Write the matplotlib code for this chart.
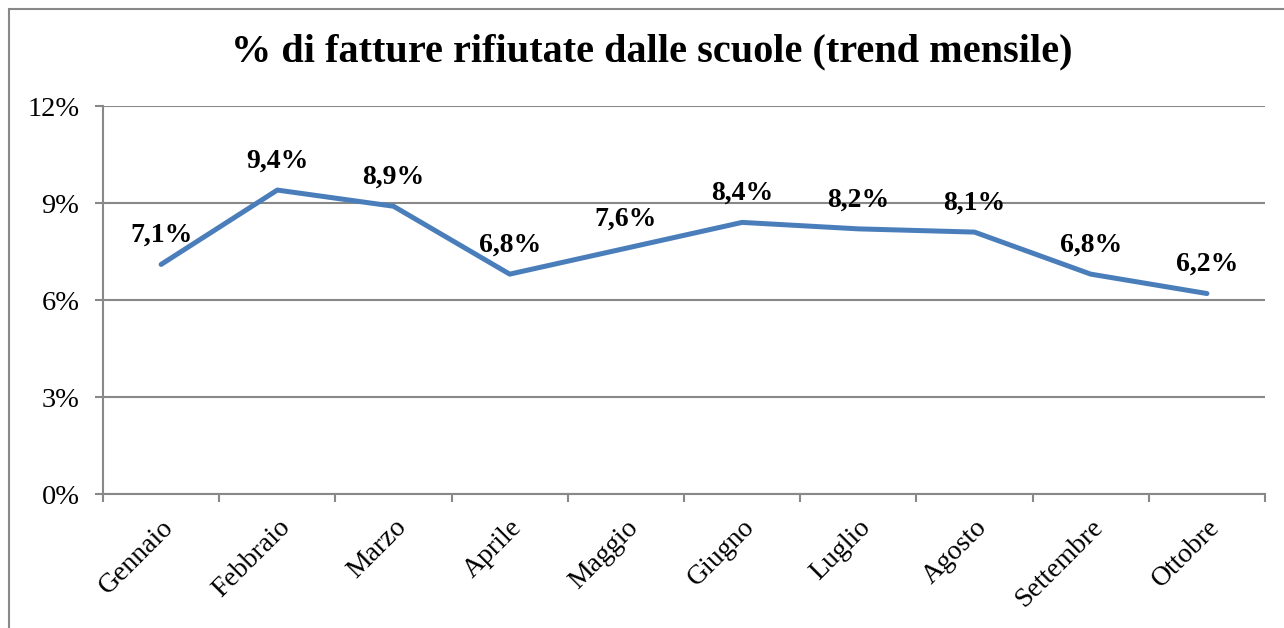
import matplotlib.pyplot as plt
import matplotlib.patches as patches
import numpy as np

# data
mesi = ["Gennaio", "Febbraio", "Marzo", "Aprile", "Maggio", "Giugno",
        "Luglio", "Agosto", "Settembre", "Ottobre"]
valori = [7.1, 9.4, 8.9, 6.8, 7.6, 8.4, 8.2, 8.1, 6.8, 6.2]
etichette = ["7,1%", "9,4%", "8,9%", "6,8%", "7,6%", "8,4%", "8,2%", "8,1%", "6,8%", "6,2%"]
y_ticks = [0, 3, 6, 9, 12]

plt.rcParams['font.family'] = ['Liberation Serif', 'DejaVu Serif']

fig = plt.figure(figsize=(12.84, 6.28), dpi=100)
ax = fig.add_axes([103 / 1284, 1 - 494 / 628, 1162 / 1284, 388 / 628])

x = np.arange(len(mesi))
ax.plot(x, valori, color='#4a7ebb', linewidth=3.6, solid_capstyle='round', solid_joinstyle='round')

for xi, v, lab in zip(x, valori, etichette):
    ax.annotate(lab, (xi, v), xytext=(0, 12), textcoords='offset points',
                ha='center', va='bottom', fontsize=20, fontweight='bold')

ax.set_xlim(-0.5, len(mesi) - 0.5)
ax.set_ylim(0, 12)
ax.set_yticks(y_ticks)
ax.set_yticklabels([f"{t}%" for t in y_ticks], fontsize=20.5)
ax.yaxis.grid(True, color='#888888', linewidth=1.5)
ax.set_axisbelow(True)

ax.set_xticks(np.arange(-0.5, len(mesi)), labels=[""] * (len(mesi) + 1))
ax.set_xticks(x, minor=True)
ax.set_xticklabels(mesi, minor=True, rotation=45, ha='right', rotation_mode='anchor', fontsize=20)
ax.tick_params(axis='x', which='minor', length=0, pad=15)
ax.tick_params(axis='both', which='major', length=6, width=1.5, color='#888888', pad=11)

for s in ['top', 'right']:
    ax.spines[s].set_visible(False)
for s in ['left', 'bottom']:
    ax.spines[s].set_color('#888888')
    ax.spines[s].set_linewidth(1.5)

fig.text(652 / 1284, 1 - 52 / 628, "% di fatture rifiutate dalle scuole (trend mensile)",
         ha='center', va='center', fontsize=29, fontweight='bold')

# chart frame
fig.patches.append(patches.Rectangle((9 / 1284, -0.1), 2, 1.1 - 9 / 628,
                                     transform=fig.transFigure, fill=False,
                                     edgecolor='#888888', linewidth=1.5))

fig.savefig("out.png", dpi=100)
